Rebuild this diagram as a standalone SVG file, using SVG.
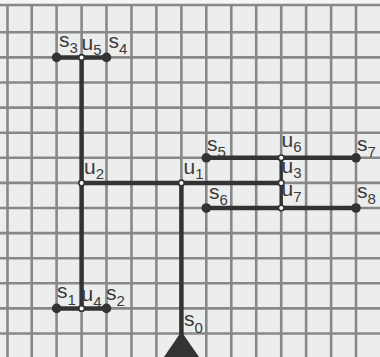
<svg xmlns="http://www.w3.org/2000/svg" width="380" height="357" viewBox="0 0 380 357">
<style>
.grid line{stroke:#888;stroke-width:2.6}
.edge{stroke:#333;stroke-width:4.5;stroke-linecap:butt;fill:none}
.thin{stroke:#333;stroke-width:3.4;fill:none}
.leaf{fill:#333}
.inner{fill:#fff;stroke:#333;stroke-width:1.6}
.l{font-family:"Liberation Sans",Arial,sans-serif;font-size:21px;fill:#3a3a3a}
.l tspan{font-size:15px}
</style>
<rect x="0" y="0" width="380" height="357" fill="#eceeee"/>
<rect x="0" y="0" width="380" height="4" fill="#f6f6f6"/>
<g class="grid">
<line x1="0" y1="5" x2="380" y2="5" stroke="#b5b5b5"/>
<line x1="0" y1="32.3" x2="380" y2="32.3"/>
<line x1="0" y1="57.4" x2="380" y2="57.4"/>
<line x1="0" y1="82.5" x2="380" y2="82.5"/>
<line x1="0" y1="107.6" x2="380" y2="107.6"/>
<line x1="0" y1="132.7" x2="380" y2="132.7"/>
<line x1="0" y1="157.8" x2="380" y2="157.8"/>
<line x1="0" y1="182.9" x2="380" y2="182.9"/>
<line x1="0" y1="208" x2="380" y2="208"/>
<line x1="0" y1="233.1" x2="380" y2="233.1"/>
<line x1="0" y1="258.2" x2="380" y2="258.2"/>
<line x1="0" y1="283.3" x2="380" y2="283.3"/>
<line x1="0" y1="308.4" x2="380" y2="308.4"/>
<line x1="0" y1="333.5" x2="380" y2="333.5"/>
<line x1="7.5" y1="5" x2="7.5" y2="357"/>
<line x1="31.7" y1="5" x2="31.7" y2="357"/>
<line x1="56.6" y1="5" x2="56.6" y2="357"/>
<line x1="81.6" y1="5" x2="81.6" y2="357"/>
<line x1="106.5" y1="5" x2="106.5" y2="357"/>
<line x1="131.5" y1="5" x2="131.5" y2="357"/>
<line x1="156.4" y1="5" x2="156.4" y2="357"/>
<line x1="181.4" y1="5" x2="181.4" y2="357"/>
<line x1="206.3" y1="5" x2="206.3" y2="357"/>
<line x1="231.3" y1="5" x2="231.3" y2="357"/>
<line x1="256.2" y1="5" x2="256.2" y2="357"/>
<line x1="281.2" y1="5" x2="281.2" y2="357"/>
<line x1="306.1" y1="5" x2="306.1" y2="357"/>
<line x1="331.1" y1="5" x2="331.1" y2="357"/>
<line x1="356" y1="5" x2="356" y2="357"/>
</g>
<g id="connectors">
<line class="edge" x1="56.6" y1="57.4" x2="106.5" y2="57.4"/>
<line class="edge" x1="81.6" y1="57.4" x2="81.6" y2="308.4"/>
<line class="edge" x1="56.6" y1="308.4" x2="106.5" y2="308.4"/>
<line class="edge" x1="81.6" y1="182.9" x2="281.2" y2="182.9"/>
<line class="edge" x1="181.4" y1="182.9" x2="181.4" y2="335"/>
<line class="edge" x1="206.3" y1="157.8" x2="356" y2="157.8"/>
<line class="edge" x1="206.3" y1="208" x2="356" y2="208"/>
<line class="thin" x1="281.2" y1="157.8" x2="281.2" y2="208"/>
</g>
<g id="s0"><polygon class="leaf" points="181.4,331.5 164,357 199,357"/><text class="l" x="184" y="326">s<tspan y="333">0</tspan></text></g>
<g id="s1"><circle class="leaf" cx="56.6" cy="308.4" r="4.8"/><text class="l" x="57" y="298">s<tspan y="305">1</tspan></text></g>
<g id="s2"><circle class="leaf" cx="106.5" cy="308.4" r="4.8"/><text class="l" x="106" y="300">s<tspan y="306">2</tspan></text></g>
<g id="s3"><circle class="leaf" cx="56.6" cy="57.4" r="4.8"/><text class="l" x="59" y="47">s<tspan y="53">3</tspan></text></g>
<g id="s4"><circle class="leaf" cx="106.5" cy="57.4" r="4.8"/><text class="l" x="108.5" y="48">s<tspan y="54">4</tspan></text></g>
<g id="s5"><circle class="leaf" cx="206.3" cy="157.8" r="4.8"/><text class="l" x="207" y="151">s<tspan y="157">5</tspan></text></g>
<g id="s6"><circle class="leaf" cx="206.3" cy="208" r="4.8"/><text class="l" x="209" y="199">s<tspan y="205">6</tspan></text></g>
<g id="s7"><circle class="leaf" cx="356" cy="157.8" r="4.8"/><text class="l" x="357" y="151">s<tspan y="157">7</tspan></text></g>
<g id="s8"><circle class="leaf" cx="356" cy="208" r="4.8"/><text class="l" x="357" y="198">s<tspan y="204">8</tspan></text></g>
<g id="u1"><circle class="inner" cx="181.4" cy="182.9" r="2.8"/><text class="l" x="183.5" y="174">u<tspan y="179">1</tspan></text></g>
<g id="u2"><circle class="inner" cx="81.6" cy="182.9" r="2.8"/><text class="l" x="84" y="174">u<tspan y="179">2</tspan></text></g>
<g id="u3"><circle class="inner" cx="281.2" cy="182.9" r="2.8"/><text class="l" x="281.5" y="173">u<tspan y="178">3</tspan></text></g>
<g id="u4"><circle class="inner" cx="81.6" cy="308.4" r="2.8"/><text class="l" x="81.5" y="301">u<tspan y="307">4</tspan></text></g>
<g id="u5"><circle class="inner" cx="81.6" cy="57.4" r="2.8"/><text class="l" x="81.5" y="50">u<tspan y="55">5</tspan></text></g>
<g id="u6"><circle class="inner" cx="281.2" cy="157.8" r="2.8"/><text class="l" x="281.5" y="147">u<tspan y="152">6</tspan></text></g>
<g id="u7"><circle class="inner" cx="281.2" cy="208" r="2.8"/><text class="l" x="281.5" y="196">u<tspan y="202">7</tspan></text></g>
</svg>
